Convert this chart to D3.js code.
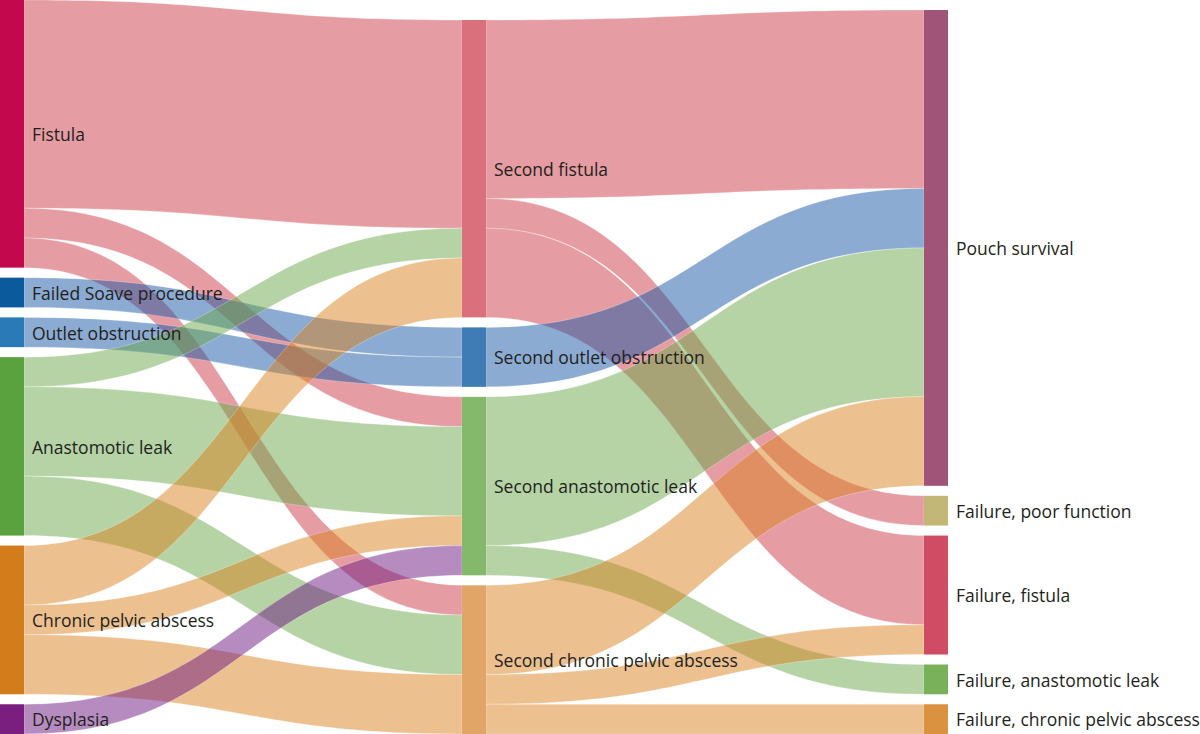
<!DOCTYPE html>
<html><head><meta charset="utf-8">
<script src="https://cdn.jsdelivr.net/npm/d3@7"></script>
<style>body{margin:0;background:#fff;overflow:hidden} svg{display:block}</style>
</head><body>
<svg id="chart" width="1200" height="734"></svg>
<script>
// ---------- data ----------
const nodeNames = [
  "Fistula", "Failed Soave procedure", "Outlet obstruction", "Anastomotic leak",
  "Chronic pelvic abscess", "Dysplasia",
  "Second fistula", "Second outlet obstruction", "Second anastomotic leak",
  "Second chronic pelvic abscess",
  "Pouch survival", "Failure, poor function", "Failure, fistula",
  "Failure, anastomotic leak", "Failure, chronic pelvic abscess"
];
const nodeColumns = [0, 0, 0, 0, 0, 0, 1, 1, 1, 1, 2, 2, 2, 2, 2];
const nodeFamilies = ["fistula", "obstruction", "obstruction", "leak", "abscess", "dysplasia",
  "fistula", "obstruction", "leak", "abscess",
  "survival", "poor", "fistula", "leak", "abscess"];

const linkSources = [0, 0, 0, 1, 2, 3, 3, 3, 4, 4, 4, 5, 6, 6, 6, 7, 8, 8, 9, 9, 9];
const linkTargets = [6, 8, 9, 7, 7, 6, 8, 9, 6, 8, 9, 8, 10, 11, 12, 10, 10, 13, 10, 12, 14];
const linkValues  = [7, 1, 1, 1, 1, 1, 3, 2, 2, 1, 2, 1, 6, 1, 3, 2, 5, 1, 3, 1, 1];

// ---------- styles ----------
const nodeColors = ["#c4084e", "#0a5a9c", "#2a7ab8", "#5aa23e", "#d37c1c", "#7a1f80",
  "#d9707b", "#3f7bb5", "#84b86b", "#e0a567",
  "#a05578", "#c2b776", "#d04c65", "#79b05a", "#da9140"];
const linkColorByFamily = {
  fistula: "#cb3945", obstruction: "#1757a5", leak: "#6ba74b",
  abscess: "#d9811f", dysplasia: "#6d1981"
};

// ---------- layout ----------
const W = 1200, H = 734;
const nodeWidth = 24, nodePad = 10;
const extentRight = 948;

const nodes = nodeNames.map((name, i) => ({
  index: i, name, col: nodeColumns[i], family: nodeFamilies[i],
  sourceLinks: [], targetLinks: []
}));
const links = linkSources.map((s, i) => ({
  source: nodes[s], target: nodes[linkTargets[i]], value: linkValues[i], index: i
}));
links.forEach(l => { l.source.sourceLinks.push(l); l.target.targetLinks.push(l); });
nodes.forEach(n => {
  n.value = Math.max(d3.sum(n.sourceLinks, l => l.value), d3.sum(n.targetLinks, l => l.value));
});

const columns = d3.groups(nodes, n => n.col).sort((a, b) => a[0] - b[0]).map(g => g[1]);
const ky = d3.min(columns, c => (H - (c.length - 1) * nodePad) / d3.sum(c, n => n.value));
const yv = d3.scaleLinear().domain([0, 1]).range([0, ky]);
const xCol = d3.scaleLinear().domain([0, columns.length - 1]).range([0, extentRight - nodeWidth]);

columns.forEach(col => {
  const total = yv(d3.sum(col, n => n.value)) + (col.length - 1) * nodePad;
  let y = H - total; // bottom aligned
  col.forEach(n => {
    n.x0 = xCol(n.col); n.x1 = n.x0 + nodeWidth;
    n.y0 = y; n.y1 = y + yv(n.value);
    y = n.y1 + nodePad;
  });
});
links.forEach(l => l.width = yv(l.value));
nodes.forEach(n => {
  n.sourceLinks.sort((a, b) => a.target.y0 - b.target.y0);
  n.targetLinks.sort((a, b) => a.source.y0 - b.source.y0);
  let y = n.y0;
  n.sourceLinks.forEach(l => { l.sy0 = y; l.sy1 = y + l.width; y += l.width; });
  y = n.y0;
  n.targetLinks.forEach(l => { l.ty0 = y; l.ty1 = y + l.width; y += l.width; });
});

// ribbon (constant vertical thickness) built from two horizontal bezier edges
function ribbon(l) {
  const x0 = l.source.x1, x1 = l.target.x0, xm = (x0 + x1) / 2;
  const p = d3.path();
  p.moveTo(x0, l.sy0);
  p.bezierCurveTo(xm, l.sy0, xm, l.ty0, x1, l.ty0);
  p.lineTo(x1, l.ty1);
  p.bezierCurveTo(xm, l.ty1, xm, l.sy1, x0, l.sy1);
  p.closePath();
  return p.toString();
}

// ---------- draw ----------
const svg = d3.select("#chart");

svg.append("g")
  .selectAll("path")
  .data(links)
  .join("path")
  .attr("d", ribbon)
  .attr("fill", d => linkColorByFamily[d.source.family])
  .attr("fill-opacity", 0.5)
  .attr("stroke", "#fff")
  .attr("stroke-opacity", 0.35)
  .attr("stroke-width", 0.8);

svg.append("g")
  .selectAll("rect")
  .data(nodes)
  .join("rect")
  .attr("x", d => d.x0)
  .attr("y", d => d.y0)
  .attr("width", d => d.x1 - d.x0)
  .attr("height", d => d.y1 - d.y0)
  .attr("fill", d => nodeColors[d.index]);

svg.append("g")
  .attr("font-family", "'Open Sans', sans-serif")
  .attr("font-size", 17.5)
  .attr("fill", "#231f20")
  .selectAll("text")
  .data(nodes)
  .join("text")
  .attr("x", d => d.x1 + 8)
  .attr("y", d => (d.y0 + d.y1) / 2)
  .attr("dy", "0.42em")
  .text(d => d.name);
</script>
</body></html>
